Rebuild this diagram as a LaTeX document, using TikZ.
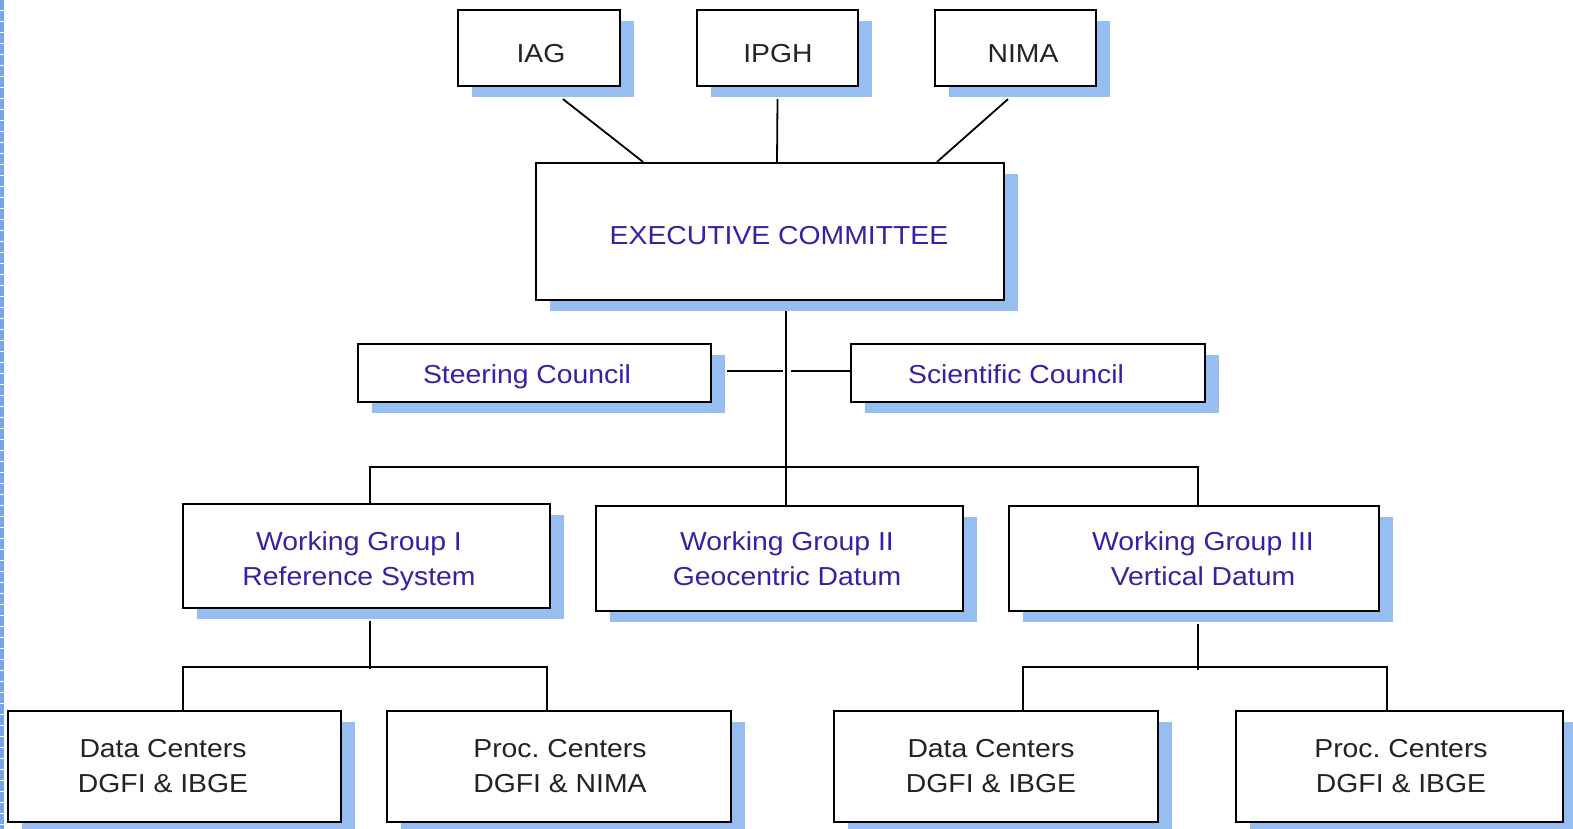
\documentclass[tikz,border=0pt]{standalone}
\usepackage{fontspec}
\setmainfont{Liberation Sans}
\usetikzlibrary{shadows,calc}
\definecolor{shadowblue}{RGB}{150,190,240}
\definecolor{txtblue}{RGB}{50,35,165}
\definecolor{txtgray}{RGB}{35,35,35}
\definecolor{edgeblue}{RGB}{120,165,230}
\newcommand\sx[1]{\scalebox{1.09}[1]{#1}}
\begin{document}
\begin{tikzpicture}[x=1pt,y=-1pt,
  orgbox/.style={draw=black, line width=2.2pt, fill=white, inner sep=0pt,
    drop shadow={shadow xshift=14pt, shadow yshift=-11pt, fill=shadowblue, opacity=1, shadow scale=1}},
  conn/.style={draw=black, line width=1.8pt},
  bluetxt/.style={text=txtblue, font=\fontsize{26}{35}\selectfont, align=center, inner sep=0pt, anchor=north},
  graytxt/.style={text=txtgray, font=\fontsize{26}{35}\selectfont, align=center, inner sep=0pt, anchor=north}]
\useasboundingbox (0,0) rectangle (1573,829);
\fill[white] (0,0) rectangle (1573,829);
\draw[edgeblue, line width=4.5pt, dash pattern=on 10pt off 1pt] (2.2,0) -- (2.2,829);

% boxes
\node[orgbox, minimum width=162, minimum height=76] (iag) at (539,48) {};
\node[orgbox, minimum width=161, minimum height=76] (ipgh) at (777.5,48) {};
\node[orgbox, minimum width=161, minimum height=76] (nima) at (1015.5,48) {};
\node[orgbox, minimum width=468, minimum height=137] (exec) at (770,231.5) {};
\node[orgbox, minimum width=353, minimum height=58] (steer) at (534.5,373) {};
\node[orgbox, minimum width=354, minimum height=58] (sci) at (1028,373) {};
\node[orgbox, minimum width=367, minimum height=104] (wg1) at (366.5,556) {};
\node[orgbox, minimum width=367, minimum height=105] (wg2) at (779.5,558.5) {};
\node[orgbox, minimum width=370, minimum height=105] (wg3) at (1194,558.5) {};
\node[orgbox, minimum width=333, minimum height=111] (dc1) at (174.5,766.5) {};
\node[orgbox, minimum width=344, minimum height=111] (pc1) at (559,766.5) {};
\node[orgbox, minimum width=324, minimum height=111] (dc2) at (996,766.5) {};
\node[orgbox, minimum width=327, minimum height=111] (pc2) at (1399.5,766.5) {};

% texts (anchored at the top of the capitals)
\node[graytxt] (tiag) at (541,44) {\sx{IAG}};
\node[graytxt] (tipgh) at (778,44) {\sx{IPGH}};
\node[graytxt] (tnima) at (1023,44) {\sx{NIMA}};
\node[bluetxt] (texec) at (779,226) {\sx{EXECUTIVE COMMITTEE}};
\node[bluetxt] (tsteer) at (527,364) {\sx{Steering Council}};
\node[bluetxt] (tsci) at (1016,364) {\sx{Scientific Council}};
\node[bluetxt] (twg1) at (359,531) {\sx{Working Group I}\\\sx{Reference System}};
\node[bluetxt] (twg2) at (787,531) {\sx{Working Group II}\\\sx{Geocentric Datum}};
\node[bluetxt] (twg3) at (1203,531) {\sx{Working Group III}\\\sx{Vertical Datum}};
\node[graytxt] (tdc1) at (163,739) {\sx{Data Centers}\\\sx{DGFI \& IBGE}};
\node[graytxt] (tpc1) at (560,739) {\sx{Proc.\ Centers}\\\sx{DGFI \& NIMA}};
\node[graytxt] (tdc2) at (991,739) {\sx{Data Centers}\\\sx{DGFI \& IBGE}};
\node[graytxt] (tpc2) at (1401,739) {\sx{Proc.\ Centers}\\\sx{DGFI \& IBGE}};

% top connectors
\draw[conn] ([shift={(24,12)}]iag.south) -- ([xshift=-127]exec.north);
\draw[conn] ([shift={(0,12)}]ipgh.south) -- ([xshift=7]exec.north);
\draw[conn] ([shift={(-7.5,12)}]nima.south) -- ([xshift=167]exec.north);

% spine
\coordinate (sptop) at ($(exec.south)+(16,10)$);
\draw[conn] (sptop) -- (sptop |- wg2.north);
\draw[conn] ($(steer.east)+(15,-2)$) -- ($(steer.east -| sptop)+(-3,-2)$);
\draw[conn] ($(sci.west -| sptop)+(5,-2)$) -- ($(sci.west)+(0,-2)$);

% bus to working groups
\coordinate (bus) at ($(sptop)+(0,156)$);
\draw[conn] ($(wg1.north)+(3.5,0)$) -- ($(bus -| wg1.north)+(3.5,0)$) -- ($(bus -| wg3.north)+(4,0)$) -- ($(wg3.north)+(4,0)$);

% WG I children
\coordinate (b1) at ($(wg1.south)+(3.5,0)$);
\draw[conn] ($(b1)+(0,12)$) -- ($(b1)+(0,60)$);
\draw[conn] ($(dc1.north)+(8.5,0)$) -- ($(dc1.north)+(8.5,-43)$) -- ($(pc1.north)+(-12,-43)$) -- ($(pc1.north)+(-12,0)$);

% WG III children
\coordinate (b3) at ($(wg3.south)+(4,0)$);
\draw[conn] ($(b3)+(0,12)$) -- ($(b3)+(0,57.5)$);
\draw[conn] ($(dc2.north)+(27,0)$) -- ($(dc2.north)+(27,-43)$) -- ($(pc2.north)+(-12.5,-43)$) -- ($(pc2.north)+(-12.5,0)$);
\end{tikzpicture}
\end{document}
